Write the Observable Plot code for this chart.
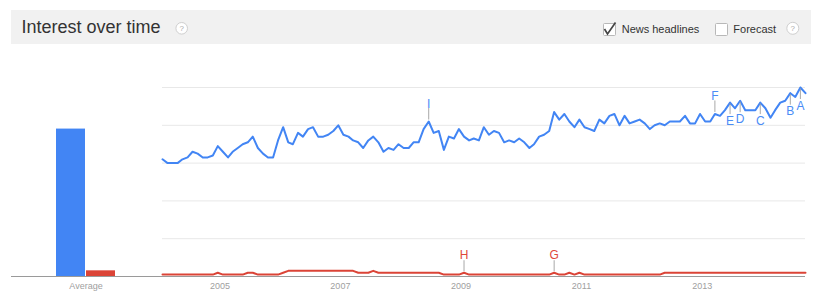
<!DOCTYPE html>
<html>
<head>
<meta charset="utf-8">
<script src="https://cdn.jsdelivr.net/npm/d3@7"></script>
<script src="https://cdn.jsdelivr.net/npm/@observablehq/plot@0.6"></script>
<style>
  body { margin: 0; background: #fff; }
  #page { position: relative; width: 817px; height: 300px; overflow: hidden; font-family: "Liberation Sans", Arial, sans-serif; }
  #header { position: absolute; left: 0; top: 0; }
  #charts { position: absolute; left: 0; top: 44px; display: flex; }
  #charts svg { display: block; }
</style>
</head>
<body>
<div id="page">
  <svg id="header" width="817" height="44" font-family="Liberation Sans, Arial, sans-serif">
    <rect x="11" y="10" width="800" height="34" fill="#f1f1f1"></rect>
    <text x="21.5" y="33.3" font-size="18" fill="#333">Interest over time</text>
    <circle cx="181.7" cy="28.3" r="5.8" fill="#fff" stroke="#cfcfcf"></circle>
    <text x="181.7" y="31.2" font-size="8" fill="#aaa" text-anchor="middle">?</text>
    <rect x="603.5" y="23.5" width="12" height="12" rx="1" fill="#fff" stroke="#b8b8b8"></rect>
    <path d="M604.5,29 L607.5,34 L615.5,22.5" fill="none" stroke="#444" stroke-width="1.7"></path>
    <text x="621.7" y="33.3" font-size="11" fill="#333">News headlines</text>
    <rect x="715.5" y="23.5" width="12" height="12" rx="1" fill="#fff" stroke="#b8b8b8"></rect>
    <text x="733.3" y="33.3" font-size="11" fill="#333">Forecast</text>
    <circle cx="792.8" cy="28.3" r="6" fill="#fff" stroke="#cfcfcf"></circle>
    <text x="792.8" y="31.2" font-size="8" fill="#aaa" text-anchor="middle">?</text>
  </svg>
  <div id="charts"></div>
</div>
<script>
// Monthly interest, Jan 2004 – Sep 2014 (0–100 scale)
const blueSeries = [
  62, 60, 60, 60, 62, 63, 66, 65, 63, 63, 64, 69,
  66, 63, 66, 68, 70, 71, 74, 68, 65, 63, 63, 72,
  79, 71, 70, 76, 74, 78, 79, 74, 74, 75, 77, 80,
  75, 74, 72, 71, 68, 72, 74, 71, 66, 68, 67, 70,
  68, 68, 71, 71, 78, 82, 76, 77, 67, 74, 73, 78,
  74, 72, 73, 72, 79, 75, 77, 76, 71, 72, 71, 73,
  71, 68, 70, 74, 75, 77, 87, 83, 86, 82, 79, 83,
  79, 78, 77, 83, 81, 85, 86, 80, 85, 81, 82, 83,
  81, 78, 80, 81, 80, 82, 82, 82, 85, 81, 81, 86,
  82, 82, 86, 85, 88, 92, 89, 93, 88, 88, 88, 92,
  89, 84, 88, 92, 93, 97, 95, 100, 97
];
const redSeries = [
  1, 1, 1, 1, 1, 1, 1, 1, 1, 1, 1, 2,
  1, 1, 1, 1, 1, 2, 2, 1, 1, 1, 1, 1,
  2, 3, 3, 3, 3, 3, 3, 3, 3, 3, 3, 3,
  3, 3, 3, 2, 2, 2, 3, 2, 2, 2, 2, 2,
  2, 2, 2, 2, 2, 2, 2, 2, 1, 1, 1, 1,
  2, 1, 1, 1, 1, 1, 1, 1, 1, 1, 1, 1,
  1, 1, 1, 1, 1, 1, 2, 1, 1, 2, 1, 2,
  1, 1, 1, 1, 1, 1, 1, 1, 1, 1, 1, 1,
  1, 1, 1, 1, 2, 2, 2, 2, 2, 2, 2, 2,
  2, 2, 2, 2, 2, 2, 2, 2, 2, 2, 2, 2,
  2, 2, 2, 2, 2, 2, 2, 2, 2
];
// Averages over the whole period
const averageLabel = "Average";
const blueAverage = 78;
const redAverage = 3;

// Year labels along the time axis
const tickYears = [2005, 2007, 2009, 2011, 2013];
const gridValues = [20, 40, 60, 80, 100];

// News headline markers
const blueLetters = ["I", "F", "E", "D", "C", "B", "A"];
const blueMonths = ["2008-06", "2013-03", "2013-06", "2013-08", "2013-12", "2014-06", "2014-08"];
const blueSides = ["above", "above", "below", "below", "below", "below", "below"];
const redLetters = ["H", "G"];
const redMonths = ["2009-01", "2010-07"];

const BLUE = "#4285f4";
const RED = "#db4437";
const BLUE_TEXT = "#4a8cf6";
const RED_TEXT = "#e0483a";
const FONT = "Liberation Sans, Arial, sans-serif";

const months = d3.utcMonth.range(new Date(Date.UTC(2004, 0, 1)), new Date(Date.UTC(2014, 9, 1)));
const rows = months.map((date, i) => ({date, blue: blueSeries[i], red: redSeries[i]}));
const parseMonth = d3.utcParse("%Y-%m");
const byMonth = new Map(rows.map(r => [+r.date, r]));

const blueMarks = blueLetters.map((letter, i) => {
  const date = parseMonth(blueMonths[i]);
  return {letter, date, value: byMonth.get(+date).blue, side: blueSides[i]};
});
const redMarks = redLetters.map((letter, i) => {
  const date = parseMonth(redMonths[i]);
  return {letter, date, value: byMonth.get(+date).red, side: "above"};
});
const aboveBlue = blueMarks.filter(d => d.side === "above");
const belowBlue = blueMarks.filter(d => d.side === "below");

const averages = [
  {label: averageLabel, series: "blue", value: blueAverage},
  {label: averageLabel, series: "red", value: redAverage}
];

const common = {
  height: 256,
  marginTop: 43,
  marginBottom: 24,
  style: {fontFamily: FONT, fontSize: "9px", background: "transparent", overflow: "visible"}
};

// Average bars
const avgPlot = Plot.plot({
  ...common,
  width: 162,
  marginLeft: 11,
  marginRight: 0,
  x: {type: "band", domain: [averageLabel], range: [56, 115], padding: 0, axis: null},
  y: {domain: [0, 100], axis: null},
  marks: [
    Plot.barY(averages.filter(d => d.series === "blue"), {x: "label", y: "value", fill: BLUE, insetRight: 30}),
    Plot.barY(averages.filter(d => d.series === "red"), {x: "label", y: "value", fill: RED, insetLeft: 30}),
    Plot.ruleY([0], {stroke: "#9a9a9a"}),
    Plot.text([averageLabel], {x: d => d, frameAnchor: "bottom", dy: 12, fill: "#a0a0a0"})
  ]
});

// Interest over time lines
const linePlot = Plot.plot({
  ...common,
  width: 655,
  marginLeft: 0,
  marginRight: 12,
  x: {type: "utc", domain: [months[0], months[months.length - 1]], axis: null},
  y: {domain: [0, 100], axis: null},
  marks: [
    Plot.ruleY(gridValues, {stroke: "#e8e8e8"}),
    Plot.ruleY([0], {stroke: "#9a9a9a"}),
    Plot.text(tickYears, {x: d => new Date(Date.UTC(d, 0, 1)), text: d => String(d), frameAnchor: "bottom", dy: 12, dx: -3, fill: "#a0a0a0"}),
    Plot.lineY(rows, {x: "date", y: "red", stroke: RED, strokeWidth: 2}),
    Plot.lineY(rows, {x: "date", y: "blue", stroke: BLUE, strokeWidth: 2}),
    Plot.ruleX(aboveBlue, {x: "date", y1: "value", y2: "value", insetTop: -13, insetBottom: 1.5, stroke: "#a8a8a8"}),
    Plot.ruleX(belowBlue, {x: "date", y1: "value", y2: "value", insetTop: 1.5, insetBottom: -12, stroke: "#a8a8a8"}),
    Plot.ruleX(redMarks, {x: "date", y1: "value", y2: "value", insetTop: -12, insetBottom: 1, stroke: "#a8a8a8"}),
    Plot.text(aboveBlue, {x: "date", y: "value", text: "letter", lineAnchor: "bottom", dy: -14, fill: BLUE_TEXT, fontSize: 12}),
    Plot.text(belowBlue, {x: "date", y: "value", text: "letter", lineAnchor: "top", dy: 13.5, fill: BLUE_TEXT, fontSize: 12}),
    Plot.text(redMarks, {x: "date", y: "value", text: "letter", lineAnchor: "bottom", dy: -13.5, fill: RED_TEXT, fontSize: 12})
  ]
});

const charts = document.getElementById("charts");
charts.append(avgPlot, linePlot);
</script>
</body>
</html>
